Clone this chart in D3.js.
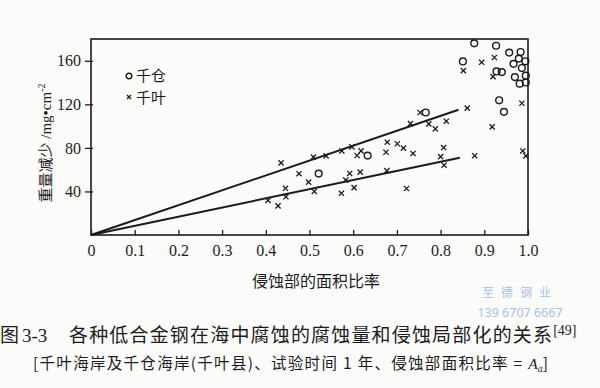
<!DOCTYPE html>
<html>
<head>
<meta charset="utf-8">
<script src="https://cdn.jsdelivr.net/npm/d3@7"></script>
<style>
  body { margin: 0; background: #fbfbfa; }
  svg { display: block; }
</style>
</head>
<body>
<div id="chart"></div>
<script>
// Tick values
const xTicks = [0, 0.1, 0.2, 0.3, 0.4, 0.5, 0.6, 0.7, 0.8, 0.9, 1.0];
const yTicks = [40, 80, 120, 160];

// 千仓 (circles): [area ratio, weight loss]
const chikuraPoints = [
    [0.521, 56.4], [0.633, 72.9], [0.766, 112.5],
    [0.851, 159.4], [0.877, 176.0], [0.927, 173.8], [0.928, 150.2], [0.940, 149.6],
    [0.934, 123.7], [0.945, 113.1], [0.957, 167.5], [0.967, 157.2], [0.983, 168.0],
    [0.979, 162.0], [0.994, 159.5], [0.986, 153.3], [0.995, 146.3], [0.970, 145.0],
    [0.981, 139.0], [0.995, 140.1]
];

// 千叶 (crosses): [area ratio, weight loss]
const chibaPoints = [
    [0.435, 66.2], [0.476, 56.3], [0.498, 48.6], [0.445, 42.9], [0.446, 35.1],
    [0.405, 31.7], [0.428, 26.7], [0.511, 40.0], [0.509, 71.6], [0.538, 72.7],
    [0.574, 77.2], [0.597, 80.9], [0.618, 77.3], [0.609, 73.0], [0.573, 38.3],
    [0.583, 50.4], [0.592, 56.5], [0.602, 43.5], [0.616, 57.7], [0.675, 76.0],
    [0.678, 85.2], [0.677, 59.1], [0.701, 83.8], [0.715, 79.8], [0.737, 74.9],
    [0.722, 42.7], [0.731, 102.3], [0.753, 112.5], [0.773, 102.0], [0.788, 97.5],
    [0.813, 104.5], [0.807, 80.3], [0.800, 72.0], [0.808, 64.1], [0.861, 116.5],
    [0.878, 72.8], [0.852, 151.0], [0.894, 158.6], [0.923, 163.0], [0.920, 145.5],
    [0.918, 99.3], [0.986, 121.0], [0.988, 77.2], [0.995, 72.6]
];

// Two trend lines through the origin
const upperLine = [[0, 0], [0.841, 115]];
const lowerLine = [[0, 0], [0.844, 71]];

Chart();

function Chart() {
    const W = 600, H = 388;
    const ink = "#1b1b1b";
    const plot = { left: 91, right: 528, top: 39, bottom: 235 };

    const svg = d3.select("#chart")
        .append("svg")
        .attr("width", W)
        .attr("height", H);

    svg.append("rect").attr("width", W).attr("height", H).attr("fill", "#fbfbfa");

    // Scales
    const xScale = d3.scaleLinear().domain([0, 1]).range([plot.left, plot.right]);
    const yScale = d3.scaleLinear().domain([0, 180]).range([plot.bottom, plot.top]);

    // X axis, ticks pointing inward
    const xAxis = d3.axisBottom(xScale)
        .tickValues(xTicks)
        .tickSizeInner(-5)
        .tickSizeOuter(0)
        .tickPadding(10)
        .tickFormat(d => d === 0 ? "0" : d.toFixed(1));

    svg.append("g")
        .attr("transform", `translate(0, ${plot.bottom})`)
        .call(xAxis)
        .call(g => g.select(".domain").remove())
        .call(g => g.selectAll("line").attr("stroke", ink).attr("stroke-width", 1.3))
        .call(g => g.selectAll("text")
            .attr("fill", ink)
            .style("font-family", "'Liberation Serif', 'DejaVu Serif', serif")
            .style("font-size", "16px"));

    // Y axis, ticks crossing the frame
    const yAxis = d3.axisLeft(yScale)
        .tickValues(yTicks)
        .tickSizeInner(6)
        .tickSizeOuter(0)
        .tickPadding(4);

    svg.append("g")
        .attr("transform", `translate(${plot.left}, 0)`)
        .call(yAxis)
        .call(g => g.select(".domain").remove())
        .call(g => g.selectAll("line").attr("x1", 2).attr("stroke", ink).attr("stroke-width", 1.3))
        .call(g => g.selectAll("text")
            .attr("fill", ink)
            .style("font-family", "'Liberation Serif', 'DejaVu Serif', serif")
            .style("font-size", "16px"));

    // Frame
    svg.append("rect")
        .attr("x", plot.left)
        .attr("y", plot.top)
        .attr("width", plot.right - plot.left)
        .attr("height", plot.bottom - plot.top)
        .attr("fill", "none")
        .attr("stroke", ink)
        .attr("stroke-width", 1.6);

    // Trend lines
    const line = d3.line().x(d => xScale(d[0])).y(d => yScale(d[1]));
    [upperLine, lowerLine].forEach(l => {
        svg.append("path")
            .attr("d", line(l))
            .attr("fill", "none")
            .attr("stroke", ink)
            .attr("stroke-width", 2);
    });

    // 千叶 crosses
    const s = 2.6;
    svg.append("g").selectAll("path")
        .data(chibaPoints)
        .enter()
        .append("path")
        .attr("d", d => {
            const cx = xScale(d[0]), cy = yScale(d[1]);
            return `M${cx - s},${cy - s}L${cx + s},${cy + s}M${cx - s},${cy + s}L${cx + s},${cy - s}`;
        })
        .attr("stroke", ink)
        .attr("stroke-width", 1.3);

    // 千仓 circles
    svg.append("g").selectAll("circle")
        .data(chikuraPoints)
        .enter()
        .append("circle")
        .attr("cx", d => xScale(d[0]))
        .attr("cy", d => yScale(d[1]))
        .attr("r", 3.4)
        .attr("fill", "none")
        .attr("stroke", ink)
        .attr("stroke-width", 1.4);

    // Legend
    const cjk = "'Noto Sans CJK SC', sans-serif";
    const serif = "'Liberation Serif', serif";
    svg.append("circle")
        .attr("cx", 129).attr("cy", 76).attr("r", 2.8)
        .attr("fill", "none").attr("stroke", ink).attr("stroke-width", 1.4);
    svg.append("path")
        .attr("d", "M127,95L131,99M127,99L131,95")
        .attr("stroke", ink).attr("stroke-width", 1.3);
    svg.append("text").attr("x", 136).attr("y", 76).attr("dy", "0.36em")
        .style("font-family", cjk).style("font-size", "15px").attr("fill", ink).text("千仓");
    svg.append("text").attr("x", 136).attr("y", 98).attr("dy", "0.36em")
        .style("font-family", cjk).style("font-size", "15px").attr("fill", ink).text("千叶");

    // Axis titles
    svg.append("text")
        .attr("x", 316).attr("y", 287)
        .attr("text-anchor", "middle")
        .style("font-family", cjk).style("font-size", "16px").attr("fill", ink)
        .text("侵蚀部的面积比率");

    const yLabel = svg.append("text")
        .attr("transform", "translate(51, 143) rotate(-90)")
        .attr("text-anchor", "middle")
        .style("font-size", "15px").attr("fill", ink);
    yLabel.append("tspan").style("font-family", cjk).attr("fill", ink).text("重量减少");
    yLabel.append("tspan").style("font-family", serif).attr("fill", ink).text(" /mg•cm");
    yLabel.append("tspan").style("font-family", serif).attr("fill", ink)
        .style("font-size", "10px").attr("dy", "-6").text("-2");

    // Watermark
    svg.append("text").attr("x", 520).attr("y", 297).attr("text-anchor", "middle")
        .style("font-family", cjk).style("font-size", "12px").attr("fill", "#a9c3df")
        .attr("letter-spacing", "7px").text("至德钢业");
    svg.append("text").attr("x", 520).attr("y", 317).attr("text-anchor", "middle")
        .style("font-family", "'Noto Sans', sans-serif").style("font-size", "12.5px").attr("fill", "#a9c3df")
        .text("139 6707 6667");

    // Caption
    const cap = svg.append("text").attr("y", 342).attr("fill", ink)
        .style("font-family", cjk).style("font-size", "19px");
    cap.append("tspan").attr("x", 0).text("图");
    cap.append("tspan").attr("x", 22).style("font-family", serif).text("3-3");
    cap.append("tspan").attr("x", 69).attr("textLength", 483).attr("lengthAdjust", "spacing")
        .text("各种低合金钢在海中腐蚀的腐蚀量和侵蚀局部化的关系");
    cap.append("tspan").attr("dy", -7).style("font-family", serif)
        .style("font-size", "14px").text("[49]");

    const sub = svg.append("text").attr("y", 369).attr("fill", ink)
        .style("font-family", cjk).style("font-size", "15.5px");
    sub.append("tspan").attr("x", 33).attr("textLength", 494).attr("lengthAdjust", "spacing")
        .text("[千叶海岸及千仓海岸(千叶县)、试验时间 1 年、侵蚀部面积比率 = ");
    sub.append("tspan").style("font-family", serif).style("font-style", "italic").text("A");
    sub.append("tspan").style("font-family", serif).style("font-style", "italic")
        .style("font-size", "10px").attr("dy", 3).text("a");
    sub.append("tspan").attr("dy", -3).text("]");
}
</script>
</body>
</html>
